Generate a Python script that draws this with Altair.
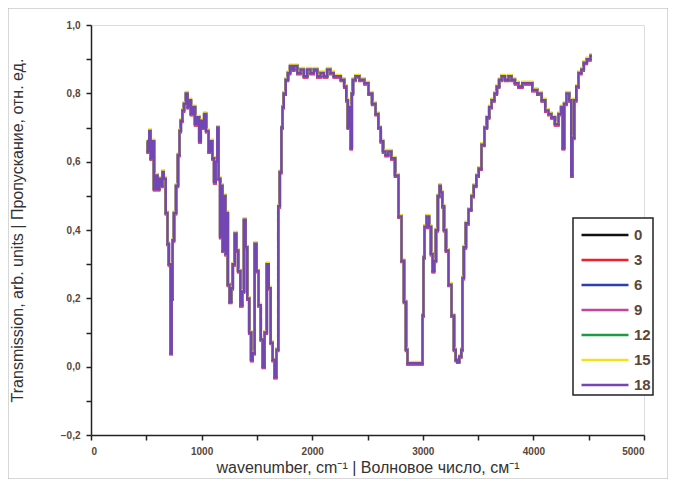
import altair as alt
import pandas as pd

# wavenumber (cm-1) and base transmission
wavenumber = [506, 520, 533, 545, 560, 579, 595, 610, 624, 640, 651, 665, 687, 696, 712, 725, 735, 741,
              760, 778, 795, 805, 820, 832, 850, 868, 880, 895, 912, 931, 950, 970, 986, 1000, 1015,
              1031, 1050, 1076, 1090, 1105, 1121, 1135, 1148, 1160, 1175, 1184, 1195, 1210, 1222, 1230,
              1245, 1260, 1275, 1290, 1310, 1320, 1340, 1360, 1375, 1392, 1405, 1420, 1440, 1455, 1470,
              1490, 1505, 1525, 1546, 1560, 1580, 1600, 1615, 1635, 1650, 1668, 1685, 1700, 1715, 1727,
              1736, 1750, 1772, 1790, 1810, 1826, 1850, 1880, 1910, 1940, 1970, 2000, 2030, 2060, 2090,
              2120, 2150, 2180, 2210, 2240, 2278, 2300, 2315, 2330, 2342, 2355, 2362, 2375, 2405, 2450,
              2495, 2523, 2560, 2586, 2610, 2631, 2650, 2676, 2700, 2731, 2767, 2794, 2821, 2839, 2857,
              2866, 2930, 2993, 3002, 3010, 3020, 3047, 3065, 3083, 3095, 3110, 3128, 3145, 3156, 3170,
              3183, 3200, 3219, 3246, 3273, 3291, 3305, 3318, 3340, 3354, 3363, 3380, 3400, 3427, 3450,
              3472, 3495, 3517, 3544, 3570, 3590, 3610, 3635, 3660, 3680, 3700, 3725, 3760, 3790, 3816,
              3850, 3879, 3920, 3969, 4010, 4060, 4090, 4123, 4150, 4177, 4213, 4241, 4260, 4270, 4285,
              4313, 4335, 4349, 4358, 4380, 4394, 4421, 4445, 4467, 4500, 4530]
transmission = [0.66, 0.63, 0.69, 0.61, 0.66, 0.52, 0.56, 0.52, 0.55, 0.53, 0.57, 0.55, 0.45, 0.36, 0.30,
                0.04, 0.20, 0.37, 0.45, 0.53, 0.62, 0.69, 0.72, 0.75, 0.77, 0.80, 0.76, 0.78, 0.74, 0.76,
                0.71, 0.73, 0.66, 0.72, 0.70, 0.74, 0.69, 0.63, 0.66, 0.61, 0.54, 0.60, 0.70, 0.55, 0.38,
                0.53, 0.34, 0.50, 0.33, 0.45, 0.24, 0.19, 0.23, 0.30, 0.39, 0.34, 0.28, 0.18, 0.22, 0.43,
                0.35, 0.20, 0.10, 0.02, 0.04, 0.36, 0.28, 0.18, 0.08, 0.00, 0.10, 0.30, 0.23, 0.07, 0.02,
                -0.03, 0.05, 0.47, 0.57, 0.70, 0.76, 0.80, 0.84, 0.86, 0.88, 0.87, 0.88, 0.86, 0.87, 0.85,
                0.87, 0.86, 0.87, 0.85, 0.86, 0.85, 0.87, 0.86, 0.85, 0.85, 0.84, 0.82, 0.78, 0.70, 0.76,
                0.64, 0.80, 0.84, 0.85, 0.84, 0.83, 0.80, 0.77, 0.74, 0.70, 0.66, 0.63, 0.62, 0.63, 0.61,
                0.56, 0.44, 0.31, 0.19, 0.05, 0.01, 0.01, 0.01, 0.15, 0.32, 0.41, 0.44, 0.41, 0.33, 0.28,
                0.31, 0.40, 0.50, 0.53, 0.51, 0.47, 0.40, 0.34, 0.24, 0.15, 0.05, 0.02, 0.015, 0.03, 0.05,
                0.26, 0.35, 0.42, 0.46, 0.50, 0.53, 0.56, 0.58, 0.65, 0.70, 0.73, 0.76, 0.78, 0.80, 0.82,
                0.84, 0.85, 0.84, 0.85, 0.84, 0.83, 0.82, 0.83, 0.83, 0.81, 0.80, 0.78, 0.75, 0.74, 0.73,
                0.71, 0.74, 0.76, 0.64, 0.77, 0.80, 0.78, 0.56, 0.67, 0.78, 0.82, 0.86, 0.87, 0.89, 0.90,
                0.91]

series_names = ["0", "3", "6", "9", "12", "15", "18"]
# small vertical shifts of each sample relative to the base curve
series_shift = [0.0, -0.004, 0.002, -0.003, 0.001, 0.004, 0.0]
series_colors = ["#111111", "#f0202a", "#2b3fae", "#c2449e", "#1c9a44", "#f2e21a", "#7347b3"]

rows = []
for name, shift in zip(series_names, series_shift):
    for w, t in zip(wavenumber, transmission):
        rows.append({"wavenumber": w, "T": t + shift, "series": name})
df = pd.DataFrame(rows)

label_color = "#5a4638"

frame = alt.Chart(pd.DataFrame({"a": [0]})).mark_rect(
    fill=None, stroke="#b0b0b0", strokeWidth=1
).encode(
    x=alt.value(-83), x2=alt.value(553 + 24), y=alt.value(-17), y2=alt.value(410 + 44)
)

lines = alt.Chart(df).mark_line(interpolate="step", strokeWidth=2.4).encode(
    x=alt.X("wavenumber:Q",
            scale=alt.Scale(domain=[0, 5000], nice=False),
            axis=alt.Axis(values=list(range(0, 5001, 500)),
                          labelExpr="datum.value % 1000 == 0 ? datum.label : ''",
                          format="d",
                          title="wavenumber, cm⁻¹ | Волновое число, см⁻¹",
                          titleFontSize=16, titleFontWeight="normal", titleColor="#333333",
                          titleFont="Liberation Sans", titlePadding=3,
                          labelFont="Liberation Sans", labelFontSize=10, labelFontWeight="bold",
                          labelColor=label_color, labelPadding=6,
                          domainColor="#222222", domainWidth=1.5,
                          tickColor="#222222", tickSize=5, tickWidth=1.5, grid=False)),
    y=alt.Y("T:Q",
            scale=alt.Scale(domain=[-0.2, 1.0], nice=False, zero=False),
            axis=alt.Axis(values=[-0.2, -0.1, 0.0, 0.1, 0.2, 0.3, 0.4, 0.5, 0.6, 0.7, 0.8, 0.9, 1.0],
                          labelExpr="abs(round(datum.value*10)) % 2 == 0 ? replace(format(datum.value, '.1f'), '.', ',') : ''",
                          title="Transmission, arb. units | Пропускание, отн. ед.",
                          titleFontSize=16, titleFontWeight="normal", titleColor="#333333",
                          titleFont="Liberation Sans", titlePadding=35,
                          labelFont="Liberation Sans", labelFontSize=10, labelFontWeight="bold",
                          labelColor=label_color, labelPadding=6,
                          domainColor="#222222", domainWidth=1.5,
                          tickColor="#222222", tickSize=5, tickWidth=1.5, grid=False)),
    color=alt.Color("series:N",
                    scale=alt.Scale(domain=series_names, range=series_colors),
                    sort=series_names,
                    legend=alt.Legend(title=None, orient="none", legendX=482, legendY=193,
                                      symbolType="M-1.75,0L1.75,0", symbolSize=720,
                                      symbolStrokeWidth=2.5, symbolOffset=15,
                                      labelFont="Liberation Sans", labelFontSize=15,
                                      labelFontWeight="bold", labelColor=label_color,
                                      rowPadding=2, padding=2, labelOffset=14,
                                      strokeColor="#222222",
                                      fillColor="white", cornerRadius=0)),
    order=alt.Order("series_order:Q"),
).transform_calculate(
    series_order="indexof(['0','3','6','9','12','15','18'], datum.series)"
)

chart = alt.layer(frame, lines).properties(
    width=553, height=410,
    padding={"left": 83, "top": 17, "right": 24, "bottom": 44},
    autosize=alt.AutoSizeParams(type="none"),
).configure_view(stroke=None).configure(background="white").configure_legend(strokeWidth=1.5)

chart.save("out.html", embed_options={"renderer": "svg", "actions": False})
